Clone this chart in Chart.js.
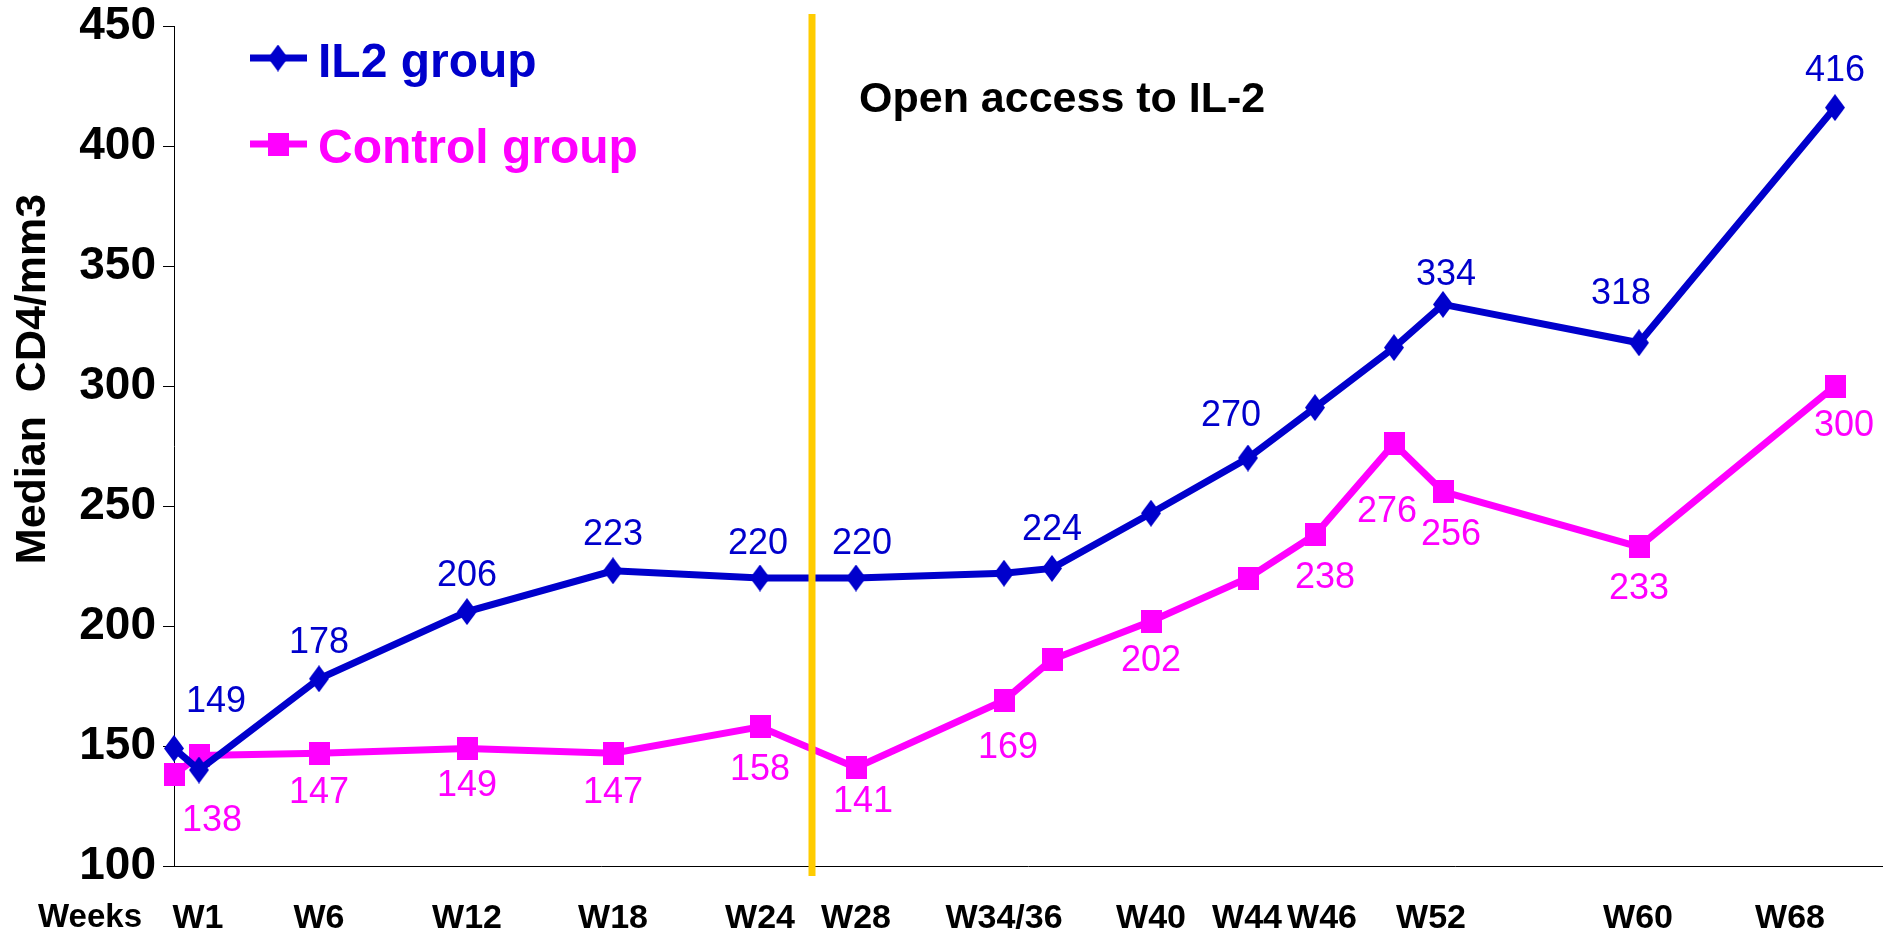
<!DOCTYPE html>
<html>
<head>
<meta charset="utf-8">
<script src="https://cdn.jsdelivr.net/npm/chart.js@4/dist/chart.umd.min.js"></script>
<style>
  body { margin:0; background:#fff; }
  #wrap { width:1886px; height:933px; }
</style>
</head>
<body>
<div id="wrap"><canvas id="chart"></canvas></div>
<script>
// where each visit sits on the time axis (W1 = 0)
const visitPos = [0, 0.25, 1.45, 2.93, 4.39, 5.86, 6.82, 8.30, 8.78, 9.77, 10.74, 11.41, 12.20, 12.69, 14.65, 16.61]
const il2 = [149, 140, 178, 206, 223, 220, 220, 222, 224, 247, 270, 291, 316, 334, 318, 416]
const control = [138, 146, 147, 149, 147, 158, 141, 169, 186, 202, 220, 238, 276, 256, 233, 300]
const il2Labels = ['149', null, '178', '206', '223', '220', '220', null, '224', null, '270', null, null, '334', '318', '416']
const controlLabels = ['138', null, '147', '149', '147', '158', '141', '169', null, '202', null, '238', '276', '256', '233', '300']

const weekLabels = ['W1', 'W6', 'W12', 'W18', 'W24', 'W28', 'W34/36', 'W40', 'W44', 'W46', 'W52', 'W60', 'W68']
const weekPos = [0.24, 1.45, 2.93, 4.39, 5.86, 6.82, 8.30, 9.77, 10.73, 11.48, 12.57, 14.64, 16.16]
const yTicks = [100, 150, 200, 250, 300, 350, 400, 450]
const openAccessPos = 6.38

// label placement (px, from the point)
const il2LabelOff = [[42,-48],null,[0,-38],[0,-38],[0,-38],[-2,-36],[6,-36],null,[0,-40],null,[-17,-44],null,null,[3,-31],[-18,-51],[0,-39]]
const controlLabelOff = [[38,44],null,[0,38],[0,36],[0,38],[0,41],[7,32],[4,46],null,[0,38],null,[10,41],[-7,66],[8,41],[0,40],[9,38]]

const FONT = "'Liberation Sans', Arial, sans-serif"
const BLUE = '#0000CC', PINK = '#FF00FF'

function diamond(w, h, color) {
  var c = document.createElement('canvas'); c.width = w; c.height = h
  var g = c.getContext('2d'); g.fillStyle = color
  g.beginPath(); g.moveTo(w/2, 0); g.lineTo(w, h/2); g.lineTo(w/2, h); g.lineTo(0, h/2); g.closePath(); g.fill()
  return c
}
function square(w, h, color) {
  var c = document.createElement('canvas'); c.width = w; c.height = h
  var g = c.getContext('2d'); g.fillStyle = color
  g.fillRect(0, 0, w, h)
  return c
}
const il2Marker = diamond(20, 27, BLUE)
const ctrlMarker = square(21, 23, PINK)

const extras = {
  id: 'extras',
  afterDatasetsDraw(chart) {
    const ctx = chart.ctx, xs = chart.scales.x, ys = chart.scales.y
    ctx.save()
    // open access divider
    var ox = xs.getPixelForValue(openAccessPos)
    ctx.strokeStyle = '#FFCC00'; ctx.lineWidth = 7
    ctx.beginPath(); ctx.moveTo(ox, ys.top - 12); ctx.lineTo(ox, ys.bottom + 10); ctx.stroke()

    ctx.fillStyle = '#000'
    ctx.font = 'bold 43px ' + FONT
    ctx.textAlign = 'left'; ctx.textBaseline = 'alphabetic'
    ctx.fillText('Open access to IL-2', ox + 47, 112)

    // value labels
    ctx.font = '36px ' + FONT
    ctx.textAlign = 'center'; ctx.textBaseline = 'middle'
    var sets = [[il2Labels, il2LabelOff, BLUE], [controlLabels, controlLabelOff, PINK]]
    sets.forEach((s, di) => {
      var pts = chart.getDatasetMeta(di).data
      ctx.fillStyle = s[2]
      s[0].forEach((txt, j) => {
        if (!txt) return
        ctx.fillText(txt, pts[j].x + s[1][j][0], pts[j].y + s[1][j][1] + 2)
      })
    })

    // legend
    var leg = [['IL2 group', BLUE, il2Marker, 58], ['Control group', PINK, ctrlMarker, 144]]
    leg.forEach(l => {
      ctx.strokeStyle = l[1]; ctx.lineWidth = 7
      ctx.beginPath(); ctx.moveTo(250, l[3]); ctx.lineTo(307, l[3]); ctx.stroke()
      ctx.drawImage(l[2], 278 - l[2].width/2, l[3] - l[2].height/2)
      ctx.fillStyle = l[1]
      ctx.font = 'bold 48px ' + FONT
      ctx.textAlign = 'left'; ctx.textBaseline = 'middle'
      ctx.fillText(l[0], 318, l[3] + 6)
    })

    // "Weeks" in front of the week ticks
    ctx.fillStyle = '#000'
    ctx.font = 'bold 33px ' + FONT
    ctx.textAlign = 'center'; ctx.textBaseline = 'middle'
    ctx.fillText('Weeks', 90, 918)

    // axis title
    ctx.translate(33, 379)
    ctx.rotate(-Math.PI / 2)
    ctx.font = 'bold 43px ' + FONT
    ctx.fillText('Median  CD4/mm3', 0, 0)
    ctx.restore()
  }
}

new Chart(document.getElementById('chart'), {
  type: 'line',
  data: {
    datasets: [
      { label: 'IL2 group', data: visitPos.map((x, i) => ({x: x, y: il2[i]})),
        borderColor: BLUE, backgroundColor: BLUE, borderWidth: 7, pointStyle: il2Marker, clip: false },
      { label: 'Control group', data: visitPos.map((x, i) => ({x: x, y: control[i]})),
        borderColor: PINK, backgroundColor: PINK, borderWidth: 7, pointStyle: ctrlMarker, clip: false }
    ]
  },
  options: {
    responsive: true,
    maintainAspectRatio: false,
    animation: false,
    events: [],
    layout: { autoPadding: false, padding: { top: 26, right: 4, left: 0, bottom: 0 } },
    plugins: { legend: { display: false }, tooltip: { enabled: false } },
    elements: { line: { tension: 0 } },
    scales: {
      x: {
        type: 'linear', min: 0, max: 17.08,
        grid: { display: false },
        border: { display: true, color: '#000', width: 1 },
        afterBuildTicks: s => { s.ticks = weekPos.map(v => ({ value: v })) },
        afterFit: s => { s.height = 67; s.paddingLeft = 0; s.paddingRight = 0 },
        ticks: {
          autoSkip: false, maxRotation: 0, padding: 24, color: '#000',
          font: { family: FONT, size: 34, weight: 'bold' },
          callback: v => weekLabels[weekPos.indexOf(v)]
        }
      },
      y: {
        min: yTicks[0], max: yTicks[yTicks.length - 1],
        afterBuildTicks: s => { s.ticks = yTicks.map(v => ({ value: v })) },
        afterFit: s => { s.width = 174; s.paddingTop = 0; s.paddingBottom = 0 },
        grid: { drawOnChartArea: false, tickLength: 11, color: '#000' },
        border: { display: true, color: '#000', width: 1 },
        ticks: { padding: 7, color: '#000', font: { family: FONT, size: 46, weight: 'bold' } }
      }
    }
  },
  plugins: [extras]
})
</script>
</body>
</html>
